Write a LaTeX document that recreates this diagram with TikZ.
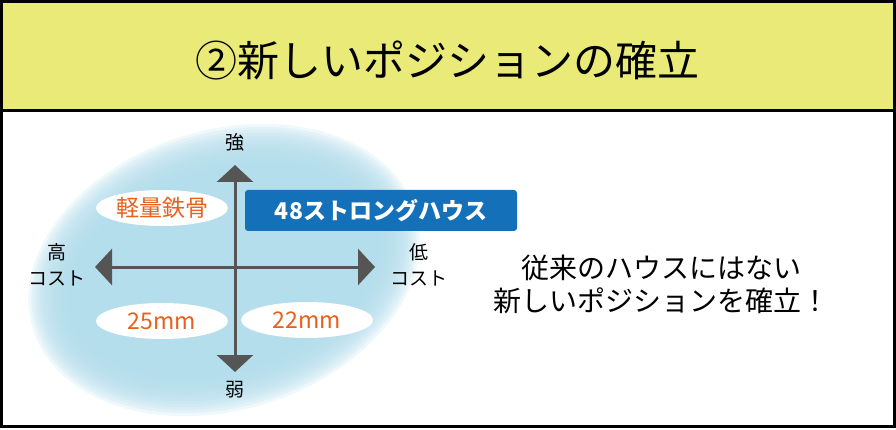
\documentclass[tikz,border=0pt]{standalone}
\usepackage{fontspec}
\setmainfont{Noto Sans CJK JP}
\usetikzlibrary{arrows.meta,shapes.geometric}
\definecolor{ttlyellow}{HTML}{EAEA78}
\definecolor{ellblue}{HTML}{B3DEEC}
\definecolor{axgray}{HTML}{555555}
\definecolor{orng}{HTML}{E8601C}
\definecolor{boxblue}{HTML}{1370B9}
\tikzset{
  frame/.style={draw=black, line width=3pt},
  axis/.style={draw=axgray, line width=3pt, {Triangle[width=36pt,length=17pt]}-{Triangle[width=36pt,length=17pt]}},
  axlabel/.style={font=\fontsize{19}{26}\selectfont, align=center, inner sep=0pt},
  wellipse/.style={ellipse, fill=white, minimum width=132pt, minimum height=36pt, inner sep=0pt, text=orng, font=\fontsize{23}{26}\selectfont},
  bluebox/.style={fill=boxblue, rounded corners=3pt, minimum width=272pt, minimum height=41pt, inner sep=0pt, text=white, font=\fontsize{23}{26}\selectfont\bfseries},
}
\begin{document}
\begin{tikzpicture}[x=1pt,y=-1pt]
\useasboundingbox (0,0) rectangle (896,430);
% frames
\path[frame, fill=ttlyellow] (1.5,1.5) rectangle (894.5,111);
\path[frame, fill=white] (1.5,111) rectangle (894.5,426);
\node (title) at (447,60) {\fontsize{42}{48}\selectfont ②新しいポジションの確立};
% soft blue ellipse
\foreach \i in {0,...,13}{
  \fill[ellblue, opacity=0.2, rotate around={17:(224,270)}] (224,270) ellipse ({(200-3*\i)*1pt} and {(140-3*\i)*1pt});
}
% axes
\coordinate (top) at (235,165);
\coordinate (bot) at (235,372);
\coordinate (lft) at (95,267);
\coordinate (rgt) at (375,267);
\draw[axis] (bot) -- (top);
\draw[axis] (lft) -- (rgt);
\node[axlabel] (strong) at (235,142) {強};
\node[axlabel] (weak) at (235,390) {弱};
\node[axlabel] (high) at (57,265) {高\\コスト};
\node[axlabel] (low) at (419,265) {低\\コスト};
% items
\node[wellipse] (steel) at (162,208) {軽量鉄骨};
\node[wellipse] (mm25) at (162,321) {25mm};
\node[wellipse] (mm22) at (307,320) {22mm};
\node[bluebox] (strongh) at (381,210.5) {48ストロングハウス};
% right text
\node[align=center, font=\fontsize{28}{33}\selectfont] (msg) at (661,284) {従来のハウスにはない\\新しいポジションを確立！};
\end{tikzpicture}
\end{document}
